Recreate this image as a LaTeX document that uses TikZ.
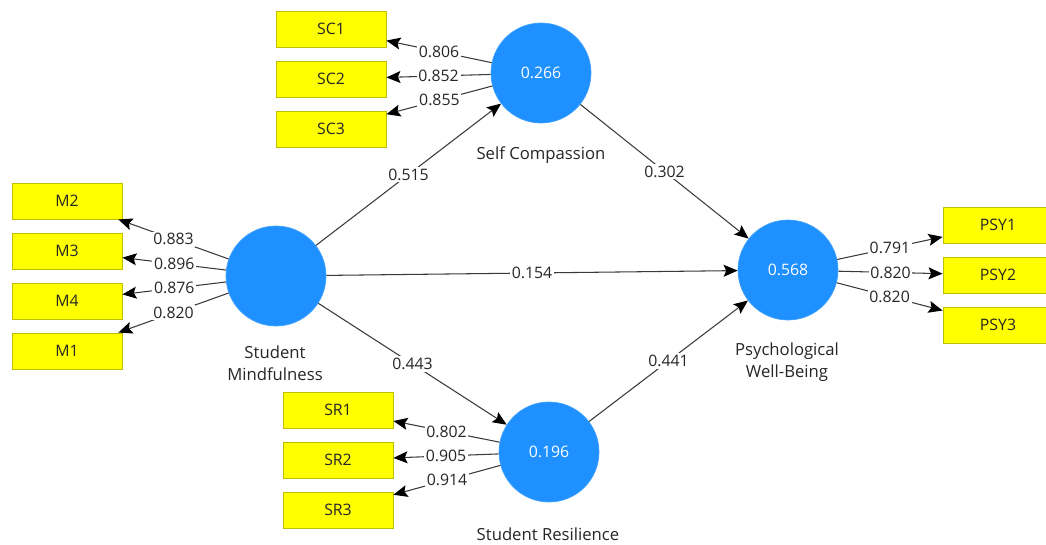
\documentclass[tikz,border=0pt]{standalone}
\usepackage{fontspec}
\setmainfont{Open Sans}
\usepackage{xcolor}
\usepackage{tikz}
\usetikzlibrary{arrows.meta,positioning}
\definecolor{construct}{HTML}{1E90FF}
\definecolor{itemfill}{HTML}{FFFF00}
\definecolor{itemedge}{HTML}{BEBE00}
\definecolor{pathline}{HTML}{3A3A3A}
\tikzset{
  latent/.style={
    circle,
    fill=construct,
    draw=construct!85!white,
    line width=0.4pt,
    minimum size=2cm,
    inner sep=0pt,
    text=white,
    font=\fontsize{9}{11}\selectfont
  },
  item/.style={
    rectangle,
    fill=itemfill,
    draw=itemedge,
    line width=0.5pt,
    minimum width=2.2cm,
    minimum height=0.72cm,
    inner sep=0pt,
    text=black!85,
    font=\fontsize{9}{11}\selectfont
  },
  caption/.style={font=\fontsize{9.5}{12.5}\selectfont, text=black!85, align=center},
  coef/.style={font=\fontsize{9}{11}\selectfont, text=black!85, fill=white, inner sep=1pt},
  link/.style={line width=0.6pt, draw=pathline, -{Stealth[length=8pt,width=6.8pt,inset=1.5pt,black]}}
}

\begin{document}
\begin{tikzpicture}[x=0.02cm,y=-0.02cm]
\path[use as bounding box] (0,0) rectangle (1046,545);
\clip (0,0) rectangle (1046,545);
\fill[white] (0,0) rectangle (1046,545);

% constructs
\node[latent] (sc) at (541,73) {0.266};
\node[latent] (sm) at (276,276) {};
\node[latent] (sr) at (549,452) {0.196};
\node[latent] (pwb) at (788,270) {0.568};
\node[caption] (scname) at (541,155) {Self Compassion};
\node[caption] (smname) at (275,363) {Student\\Mindfulness};
\node[caption] (srname) at (548,534) {Student Resilience};
\node[caption] (pwbname) at (787,362) {Psychological\\Well-Being};

% indicators
\node[item] (sc1) at (331,29) {SC1};
\node[item] (sc2) at (331,79) {SC2};
\node[item] (sc3) at (331,129) {SC3};
\node[item] (m2) at (67,201) {M2};
\node[item] (m3) at (67,251) {M3};
\node[item] (m4) at (67,301) {M4};
\node[item] (m1) at (67,351) {M1};
\node[item] (sr1) at (338,410) {SR1};
\node[item] (sr2) at (338,460) {SR2};
\node[item] (sr3) at (338,510) {SR3};
\node[item] (psy1) at (998,225) {PSY1};
\node[item] (psy2) at (998,275) {PSY2};
\node[item] (psy3) at (998,325) {PSY3};

% outer loadings
\draw[link] (sc) -- node[coef] {0.806} (sc1);
\draw[link] (sc) -- node[coef] {0.852} (sc2);
\draw[link] (sc) -- node[coef] {0.855} (sc3);
\draw[link] (sm) -- node[coef] {0.883} (m2);
\draw[link] (sm) -- node[coef] {0.896} (m3);
\draw[link] (sm) -- node[coef] {0.876} (m4);
\draw[link] (sm) -- node[coef] {0.820} (m1);
\draw[link] (sr) -- node[coef] {0.802} (sr1);
\draw[link] (sr) -- node[coef] {0.905} (sr2);
\draw[link] (sr) -- node[coef] {0.914} (sr3);
\draw[link] (pwb) -- node[coef] {0.791} (psy1);
\draw[link] (pwb) -- node[coef] {0.820} (psy2);
\draw[link] (pwb) -- node[coef] {0.820} (psy3);

% path coefficients
\draw[link] (sm) -- node[coef] {0.515} (sc);
\draw[link] (sc) -- node[coef] {0.302} (pwb);
\draw[link] (sm) -- node[coef] {0.154} (pwb);
\draw[link] (sm) -- node[coef] {0.443} (sr);
\draw[link] (sr) -- node[coef] {0.441} (pwb);
\end{tikzpicture}
\end{document}
